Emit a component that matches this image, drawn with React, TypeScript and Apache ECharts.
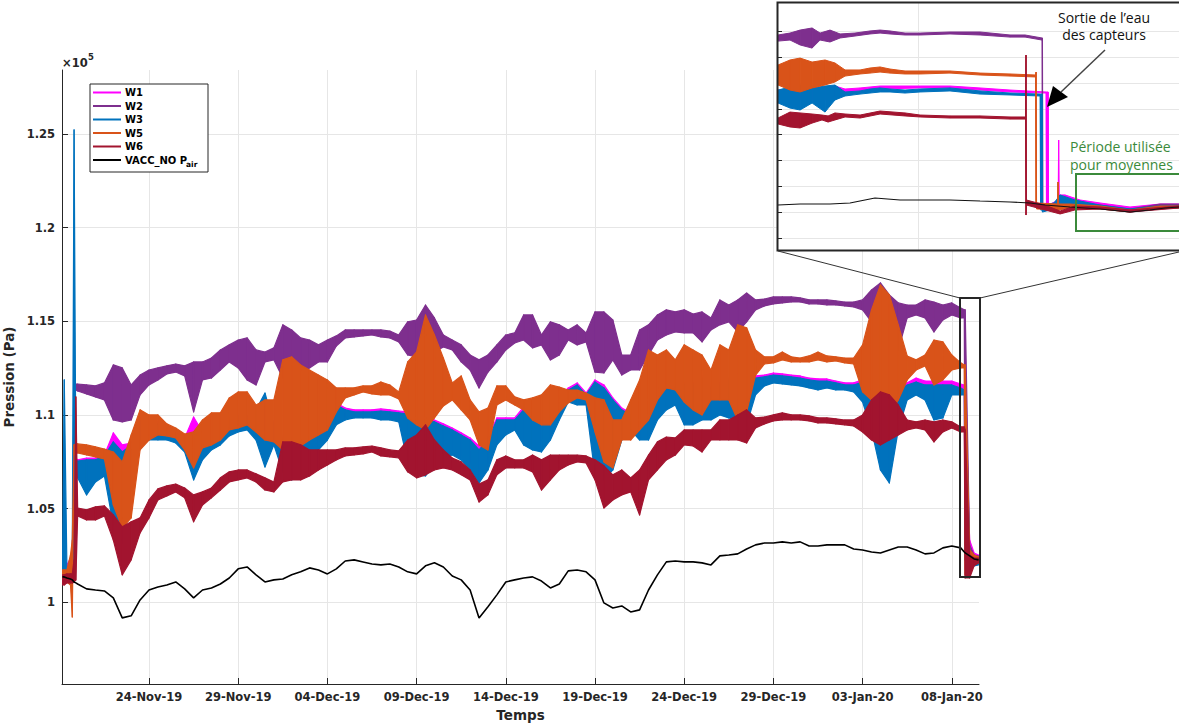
import React, { useEffect, useRef } from "react";
import * as echarts from "echarts";

// ---------- main chart data (days since 19-Nov-2019 00:00, pressure in 1e5 Pa) ----------
const days = [
  0.15, 0.25, 0.4, 0.6, 0.7, 0.8, 0.9,
  1, 1.5, 2, 2.5, 3, 3.5, 4, 4.5, 5, 5.5, 6, 6.5, 7, 7.5, 8, 8.5, 9, 9.5, 10, 10.5,
  11, 11.5, 12, 12.5, 13, 13.5, 14, 14.5, 15, 15.5, 16, 16.5, 17, 17.5, 18, 18.5, 19, 19.5, 20, 20.5,
  21, 21.5, 22, 22.5, 23, 23.5, 24, 24.5, 25, 25.5, 26, 26.5, 27, 27.5, 28, 28.5, 29, 29.5, 30, 30.5,
  31, 31.5, 32, 32.5, 33, 33.5, 34, 34.5, 35, 35.5, 36, 36.5, 37, 37.5, 38, 38.5, 39, 39.5, 40, 40.5,
  41, 41.5, 42, 42.5, 43, 43.5, 44, 44.5, 45, 45.5, 46, 46.5, 47, 47.5, 48, 48.5, 49, 49.5, 50, 50.5,
  50.7, 50.75, 51, 51.25, 51.5,
];

// [high, low] envelope of each noisy record
const w1 = [
  [1.0242, 1.0119], [1.0242, 1.0119], [1.0199, 1.0119], [1.0236, 1.0119], [1.0252, 1.0119], [1.084, 1.0706], [1.077, 1.0706],
  [1.076, 1.0706], [1.077, 1.0653], [1.077, 1.0696], [1.0786, 1.0717], [1.0904, 1.0706], [1.084, 1.0546], [1.085, 1.0653], [1.0984, 1.0866],
  [1.0984, 1.0888], [1.0963, 1.0888], [1.093, 1.0877], [1.0909, 1.0856], [1.0877, 1.0813], [1.0989, 1.0706], [1.0909, 1.0781], [1.092, 1.0824],
  [1.0952, 1.085], [1.0984, 1.0904], [1.1005, 1.092], [1.0995, 1.093],
  [1.1037, 1.0882], [1.1053, 1.0866], [1.0957, 1.085], [1.0877, 1.0733], [1.0888, 1.0706], [1.093, 1.0749], [1.0984, 1.0813], [1.1011, 1.084],
  [1.1037, 1.0888], [1.1064, 1.0963], [1.1037, 1.0989], [1.1027, 1.0995], [1.1027, 1.0995], [1.1027, 1.0995], [1.1032, 1.0984], [1.1027, 1.0984],
  [1.1021, 1.0973], [1.1016, 1.0781], [1.1011, 1.0717], [1.0984, 1.0706],
  [1.0973, 1.076], [1.0952, 1.0802], [1.093, 1.0813], [1.0904, 1.0786], [1.0877, 1.0749], [1.0834, 1.068], [1.0882, 1.0749], [1.0984, 1.0866],
  [1.0984, 1.0909], [1.0984, 1.093], [1.1043, 1.0866], [1.1043, 1.084], [1.1069, 1.0824], [1.1117, 1.0888], [1.1091, 1.0989], [1.1144, 1.108],
  [1.1171, 1.1091], [1.1117, 1.1069], [1.1187, 1.0733], [1.116, 1.0706],
  [1.1091, 1.0749], [1.1037, 1.0893], [1.1011, 1.093], [1.1037, 1.0893], [1.1091, 1.0893], [1.1171, 1.1], [1.1187, 1.1048], [1.1181, 1.108],
  [1.1171, 1.0973], [1.1171, 1.0973], [1.1208, 1.0995], [1.1144, 1.1], [1.1171, 1.1027], [1.1197, 1.1011], [1.1224, 1.1], [1.1171, 1.0973],
  [1.1208, 1.1123], [1.1213, 1.1171], [1.1224, 1.1187], [1.1219, 1.1181],
  [1.1213, 1.1176], [1.1208, 1.1171], [1.1197, 1.116], [1.1192, 1.1155], [1.1192, 1.116], [1.1181, 1.1149], [1.1171, 1.1149], [1.1171, 1.1139],
  [1.1187, 1.1091], [1.1171, 1.0947], [1.1144, 1.076], [1.1133, 1.0706], [1.1144, 1.0947], [1.1171, 1.1096], [1.1197, 1.1133], [1.1181, 1.1107],
  [1.1181, 1.1], [1.1181, 1.1016], [1.1181, 1.1133], [1.1165, 1.1133],
  [1.116, 1.1133], [1.116, 1.0252], [1.0332, 1.0226], [1.0263, 1.0215], [1.0252, 1.022],
];

const w2 = [
  [1.0162, 1.0119], [1.0162, 1.0119], [1.0162, 1.0119], [1.0172, 1.0119], [1.0172, 1.0119], [1.1165, 1.1133], [1.1165, 1.1133],
  [1.1165, 1.1128], [1.116, 1.1112], [1.1155, 1.1096], [1.1171, 1.108], [1.1267, 1.0973], [1.1251, 1.0963], [1.116, 1.0973], [1.1213, 1.1107],
  [1.124, 1.116], [1.1251, 1.1187], [1.1262, 1.1219], [1.1272, 1.1229], [1.1262, 1.1208], [1.1283, 1.1016], [1.1283, 1.1187], [1.1304, 1.1197],
  [1.1347, 1.124], [1.1374, 1.1283], [1.14, 1.1251], [1.1411, 1.1187],
  [1.1347, 1.116], [1.1336, 1.1283], [1.1358, 1.1294], [1.1481, 1.1197], [1.1454, 1.1229], [1.1411, 1.1229], [1.14, 1.1251], [1.1374, 1.1283],
  [1.14, 1.1283], [1.1422, 1.1368], [1.1454, 1.1411], [1.1454, 1.1416], [1.1454, 1.1422], [1.1454, 1.1427], [1.1454, 1.1416], [1.1448, 1.1411],
  [1.1427, 1.139], [1.1497, 1.132], [1.1507, 1.131], [1.1587, 1.132],
  [1.1518, 1.1336], [1.1427, 1.1363], [1.14, 1.1347], [1.1374, 1.1283], [1.132, 1.124], [1.1294, 1.1144], [1.132, 1.1229], [1.1374, 1.1283],
  [1.1427, 1.1347], [1.1438, 1.1384], [1.1534, 1.14], [1.1534, 1.1358], [1.1427, 1.1374], [1.1497, 1.1294], [1.1481, 1.132], [1.1454, 1.14],
  [1.1481, 1.1374], [1.1438, 1.139], [1.155, 1.1229], [1.155, 1.1224],
  [1.1507, 1.1294], [1.132, 1.1213], [1.132, 1.124], [1.1454, 1.124], [1.1481, 1.132], [1.1534, 1.14], [1.1561, 1.1427], [1.155, 1.1443],
  [1.1561, 1.1438], [1.1539, 1.1438], [1.155, 1.139], [1.1518, 1.1454], [1.1614, 1.1481], [1.1587, 1.1497], [1.1614, 1.1443], [1.1651, 1.1497],
  [1.1614, 1.1561], [1.1619, 1.1582], [1.163, 1.1593], [1.163, 1.1598],
  [1.163, 1.1603], [1.1625, 1.1603], [1.1614, 1.1593], [1.1614, 1.1593], [1.1614, 1.1587], [1.1609, 1.1587], [1.1603, 1.1582], [1.1603, 1.1577],
  [1.1614, 1.1561], [1.1667, 1.1497], [1.1705, 1.1443], [1.1641, 1.1358], [1.1598, 1.1347], [1.1587, 1.1518], [1.1587, 1.1534], [1.1614, 1.1518],
  [1.1603, 1.1443], [1.1587, 1.1507], [1.1598, 1.1534], [1.1571, 1.1518],
  [1.1561, 1.1518], [1.1561, 1.0226], [1.0306, 1.0199], [1.0252, 1.021], [1.0247, 1.0215],
];

const w3 = [
  [1.0172, 1.0108], [1.1187, 1.0119], [1.0172, 1.0119], [1.0226, 1.0119], [1.0252, 1.0108], [1.2522, 1.0226], [1.0749, 1.0664],
  [1.0754, 1.0664], [1.076, 1.0573], [1.076, 1.0642], [1.0781, 1.0674], [1.0856, 1.0413], [1.0802, 1.0316], [1.084, 1.0599], [1.0973, 1.084],
  [1.0973, 1.0866], [1.0952, 1.0866], [1.092, 1.0866], [1.0904, 1.085], [1.0866, 1.0802], [1.085, 1.0653], [1.0898, 1.076], [1.092, 1.0813],
  [1.0947, 1.084], [1.0973, 1.0888], [1.0995, 1.0909], [1.0984, 1.092],
  [1.1027, 1.0866], [1.1117, 1.0722], [1.0947, 1.084], [1.0866, 1.0696], [1.0877, 1.0653], [1.092, 1.0706], [1.0973, 1.0786], [1.1, 1.0813],
  [1.1027, 1.0866], [1.1053, 1.0947], [1.1027, 1.0973], [1.1016, 1.0984], [1.1016, 1.0984], [1.1016, 1.0984], [1.1021, 1.0973], [1.1016, 1.0973],
  [1.1011, 1.0963], [1.1005, 1.0749], [1.1, 1.068], [1.0973, 1.0674],
  [1.0963, 1.0733], [1.0941, 1.077], [1.092, 1.0786], [1.0893, 1.076], [1.0866, 1.0706], [1.0813, 1.0637], [1.0866, 1.0706], [1.0973, 1.084],
  [1.0973, 1.0893], [1.0973, 1.092], [1.1027, 1.084], [1.1027, 1.0813], [1.1053, 1.0802], [1.1107, 1.0866], [1.108, 1.0973], [1.1133, 1.1069],
  [1.116, 1.1053], [1.1107, 1.1053], [1.1176, 1.068], [1.1144, 1.0653],
  [1.108, 1.0706], [1.1027, 1.0866], [1.1, 1.092], [1.1027, 1.0866], [1.108, 1.0866], [1.116, 1.0973], [1.1176, 1.1027], [1.1171, 1.1053],
  [1.116, 1.0947], [1.116, 1.0947], [1.1197, 1.0973], [1.1133, 1.0973], [1.116, 1.1], [1.1187, 1.0984], [1.1213, 1.0973], [1.116, 1.0947],
  [1.1197, 1.1107], [1.1203, 1.1155], [1.1213, 1.1171], [1.1208, 1.1165],
  [1.1203, 1.116], [1.1197, 1.1155], [1.1187, 1.1144], [1.1181, 1.1133], [1.1181, 1.1144], [1.1171, 1.1133], [1.116, 1.1133], [1.116, 1.1123],
  [1.1176, 1.1069], [1.116, 1.092], [1.1133, 1.0706], [1.1123, 1.0637], [1.1133, 1.092], [1.116, 1.108], [1.1176, 1.1107], [1.116, 1.108],
  [1.116, 1.0973], [1.116, 1.0984], [1.116, 1.1107], [1.1144, 1.1107],
  [1.1133, 1.1107], [1.1133, 1.0226], [1.0279, 1.0199], [1.0236, 1.0194], [1.0226, 1.0199],
];

const w5 = [
  [1.0172, 1.0108], [1.0172, 1.0108], [1.0172, 1.0108], [1.0252, 1.0092], [1.0332, 0.9921], [1.084, 1.0786], [1.0845, 1.0797],
  [1.0845, 1.0797], [1.084, 1.0786], [1.0829, 1.0776], [1.0818, 1.0765], [1.0802, 1.0519], [1.0749, 1.0396], [1.0893, 1.045], [1.1027, 1.0813],
  [1.1, 1.0866], [1.1, 1.0893], [1.0952, 1.0888], [1.093, 1.0877], [1.0898, 1.0813], [1.0909, 1.0717], [1.0973, 1.0824], [1.1011, 1.084],
  [1.1011, 1.0866], [1.1091, 1.092], [1.1123, 1.093], [1.1123, 1.0947],
  [1.1053, 1.0909], [1.108, 1.0866], [1.108, 1.0856], [1.1294, 1.0813], [1.131, 1.0802], [1.1267, 1.0834], [1.124, 1.0866], [1.1213, 1.0893],
  [1.1187, 1.092], [1.1144, 1.1016], [1.1144, 1.1091], [1.1144, 1.1107], [1.1155, 1.1123], [1.1155, 1.1112], [1.1176, 1.1107], [1.116, 1.1107],
  [1.1123, 1.1085], [1.1283, 1.0984], [1.1336, 1.0947], [1.1534, 1.092],
  [1.1427, 1.0984], [1.1304, 1.1048], [1.1171, 1.108], [1.1208, 1.1027], [1.108, 1.0973], [1.1016, 1.084], [1.1037, 1.0813], [1.1155, 1.1053],
  [1.1155, 1.108], [1.1096, 1.1053], [1.108, 1.1027], [1.1091, 1.0973], [1.1107, 1.0947], [1.116, 1.0947], [1.1149, 1.1016], [1.1133, 1.1064],
  [1.1133, 1.1091], [1.1117, 1.108], [1.1091, 1.0909], [1.108, 1.0749],
  [1.0973, 1.0717], [1.0973, 1.0866], [1.108, 1.0866], [1.1187, 1.092], [1.1347, 1.0973], [1.132, 1.108], [1.1347, 1.1144], [1.1294, 1.1133],
  [1.1374, 1.1069], [1.1347, 1.1027], [1.132, 1.1], [1.124, 1.108], [1.1374, 1.108], [1.1347, 1.108], [1.1481, 1.0973], [1.1465, 1.1016],
  [1.1347, 1.1213], [1.131, 1.1272], [1.131, 1.1278], [1.1336, 1.1294],
  [1.131, 1.1283], [1.1304, 1.1283], [1.1315, 1.1283], [1.1336, 1.1294], [1.1315, 1.1283], [1.131, 1.1288], [1.1304, 1.1278], [1.1304, 1.1272],
  [1.1374, 1.1123], [1.1561, 1.108], [1.1694, 1.1027], [1.1641, 1.1], [1.1481, 1.108], [1.1315, 1.1187], [1.1294, 1.124], [1.132, 1.1262],
  [1.14, 1.116], [1.139, 1.1187], [1.132, 1.124], [1.1278, 1.1251],
  [1.1267, 1.1251], [1.1267, 1.0146], [1.0279, 1.0172], [1.0252, 1.0199], [1.0242, 1.021],
];

const w6 = [
  [1.0146, 1.0092], [1.0146, 1.0092], [1.0151, 1.0103], [1.0151, 1.0103], [1.0151, 1.0103], [1.0226, 1.0108], [1.1096, 1.0119],
  [1.0503, 1.0461], [1.0493, 1.0439], [1.0509, 1.0439], [1.0514, 1.0461], [1.0466, 1.0332], [1.0402, 1.0146], [1.0429, 1.0226], [1.045, 1.037],
  [1.0546, 1.045], [1.0605, 1.0546], [1.0621, 1.0567], [1.0631, 1.0589], [1.061, 1.0557], [1.0573, 1.0429], [1.0589, 1.0519], [1.061, 1.0557],
  [1.0664, 1.0599], [1.0696, 1.0642], [1.0706, 1.0653], [1.0706, 1.0664],
  [1.0685, 1.0642], [1.0664, 1.0599], [1.0642, 1.0589], [1.0856, 1.0642], [1.0856, 1.0653], [1.084, 1.0653], [1.0813, 1.0674], [1.0813, 1.0706],
  [1.0813, 1.0733], [1.0813, 1.076], [1.0824, 1.0781], [1.0824, 1.0786], [1.0829, 1.0792], [1.0834, 1.0802], [1.0824, 1.0781], [1.0813, 1.0776],
  [1.0808, 1.077], [1.0866, 1.0696], [1.0893, 1.0664], [1.0947, 1.068],
  [1.0866, 1.0706], [1.0813, 1.0717], [1.077, 1.0706], [1.0749, 1.068], [1.0706, 1.0653], [1.0631, 1.0535], [1.0653, 1.0573], [1.076, 1.068],
  [1.0781, 1.0717], [1.076, 1.0717], [1.076, 1.0717], [1.0786, 1.0696], [1.076, 1.0599], [1.0786, 1.0653], [1.0786, 1.0706], [1.0786, 1.0733],
  [1.0786, 1.0749], [1.0781, 1.0744], [1.076, 1.0653], [1.0728, 1.0503],
  [1.068, 1.0546], [1.0706, 1.0573], [1.0664, 1.0589], [1.0706, 1.0466], [1.0786, 1.0653], [1.0856, 1.0706], [1.0882, 1.076], [1.0877, 1.0786],
  [1.092, 1.084], [1.092, 1.0834], [1.092, 1.0802], [1.092, 1.0866], [1.0973, 1.0866], [1.0973, 1.0866], [1.1, 1.0866], [1.1027, 1.085],
  [1.0984, 1.093], [1.0989, 1.0952], [1.1, 1.0968], [1.1011, 1.0973],
  [1.1, 1.0973], [1.1, 1.0973], [1.0995, 1.0968], [1.0984, 1.0957], [1.0984, 1.0957], [1.0979, 1.0952], [1.0973, 1.0947], [1.0973, 1.0941],
  [1.1, 1.0909], [1.108, 1.0866], [1.1123, 1.084], [1.1107, 1.0866], [1.1053, 1.0893], [1.0973, 1.092], [1.0963, 1.093], [1.0973, 1.092],
  [1.0963, 1.0856], [1.0973, 1.0909], [1.0963, 1.093], [1.0936, 1.0909],
  [1.0936, 1.0909], [1.092, 1.0129], [1.0252, 1.0129], [1.0236, 1.0194], [1.0236, 1.021],
];

const vacc = [
  1.0135, 1.0135, 1.0129, 1.0124, 1.0119, 1.0108, 1.0103,
  1.0097, 1.0071, 1.0065, 1.006, 1.0023, 0.9916, 0.9927, 1.0012, 1.0065, 1.0081, 1.0092, 1.0108, 1.0071, 1.0023, 1.0065, 1.0076,
  1.0097, 1.0129, 1.0178, 1.0188,
  1.0146, 1.0108, 1.0119, 1.0124, 1.0146, 1.0162, 1.0183, 1.0172, 1.0151, 1.0178, 1.022, 1.0226, 1.0215, 1.0204, 1.0199, 1.0204,
  1.0188, 1.0162, 1.0151, 1.0194,
  1.021, 1.0188, 1.014, 1.0119, 1.0065, 0.9916, 0.9975, 1.0039, 1.0108, 1.0119, 1.0129, 1.0135, 1.0113, 1.0076, 1.0097, 1.0167,
  1.0172, 1.0162, 1.0119, 0.9996,
  0.9969, 0.998, 0.9948, 0.9959, 1.0065, 1.0146, 1.0215, 1.022, 1.0215, 1.0215, 1.021, 1.0199, 1.0247, 1.0252, 1.0258, 1.0284,
  1.0306, 1.0316, 1.0316, 1.0322,
  1.0316, 1.0322, 1.03, 1.03, 1.0306, 1.0306, 1.0306, 1.0284, 1.0279, 1.0268, 1.0263, 1.0279, 1.0295, 1.0295, 1.0279, 1.0258,
  1.0263, 1.029, 1.03, 1.029,
  1.0268, 1.0263, 1.0247, 1.0231, 1.0226,
];

// ---------- inset (zoom on the end of the record): [day, high, low] ----------
const insetW1 = [
  [49.125, 1.1145, 1.1068], [49.263, 1.1161, 1.1068], [49.419, 1.1168, 1.1068], [49.481, 1.1176, 1.1099], [49.544, 1.1153, 1.1122],
  [49.638, 1.1161, 1.1138], [49.763, 1.1176, 1.1153], [50.013, 1.1176, 1.1161], [50.2, 1.1176, 1.1161], [50.388, 1.1161, 1.1145],
  [50.575, 1.1145, 1.113], [50.8, 1.113, 1.1122], [50.803, 1.113, 1.0257], [50.813, 1.113, 1.0257], [50.816, 1.0257, 1.0219],
  [50.876, 1.0296, 1.0257], [50.879, 1.0759, 1.0296], [50.882, 1.0335, 1.0273], [50.919, 1.0335, 1.0273], [51.013, 1.0296, 1.0265],
  [51.138, 1.0273, 1.025], [51.325, 1.0242, 1.0219], [51.513, 1.0265, 1.0242], [51.631, 1.0265, 1.025],
];
const insetW2 = [
  [49.125, 1.157, 1.1523], [49.2, 1.1585, 1.1531], [49.263, 1.1608, 1.1493], [49.338, 1.1624, 1.1469], [49.388, 1.1585, 1.1531],
  [49.45, 1.1608, 1.1516], [49.513, 1.1578, 1.1547], [49.606, 1.1585, 1.1562], [49.7, 1.1601, 1.1578], [49.763, 1.1608, 1.1585],
  [49.825, 1.1601, 1.1578], [49.919, 1.1585, 1.157], [50.013, 1.1585, 1.157], [50.2, 1.1593, 1.1578], [50.388, 1.1593, 1.157],
  [50.575, 1.157, 1.1554], [50.669, 1.157, 1.1554], [50.775, 1.1547, 1.1531], [50.778, 1.1547, 1.0242], [50.781, 1.0257, 1.0219],
  [50.888, 1.0257, 1.0227], [51.013, 1.0273, 1.025], [51.138, 1.0257, 1.0234], [51.325, 1.0227, 1.0203], [51.513, 1.0265, 1.0242],
  [51.631, 1.0265, 1.0242],
];
const insetW3 = [
  [49.125, 1.1145, 1.1045], [49.2, 1.1168, 1.1006], [49.263, 1.1184, 1.0991], [49.338, 1.1161, 1.1045], [49.419, 1.1176, 1.0975],
  [49.481, 1.1184, 1.1068], [49.544, 1.113, 1.1099], [49.638, 1.1138, 1.1114], [49.7, 1.1153, 1.1122], [49.763, 1.1161, 1.113],
  [49.825, 1.1153, 1.113], [49.919, 1.1145, 1.1122], [50.013, 1.1153, 1.113], [50.2, 1.1161, 1.1138], [50.388, 1.1138, 1.1114],
  [50.575, 1.1122, 1.1107], [50.763, 1.1114, 1.1099], [50.766, 1.1114, 1.0219], [50.775, 1.1114, 1.0219], [50.778, 1.0257, 1.0203],
  [50.85, 1.0273, 1.0227], [50.888, 1.0335, 1.0257], [50.981, 1.0296, 1.0257], [51.138, 1.0257, 1.0234], [51.325, 1.0227, 1.0203],
  [51.513, 1.025, 1.0227], [51.631, 1.025, 1.0234],
];
const insetW5 = [
  [49.125, 1.1338, 1.1184], [49.2, 1.1377, 1.1145], [49.263, 1.1392, 1.113], [49.338, 1.1361, 1.1161], [49.419, 1.1377, 1.1184],
  [49.481, 1.1354, 1.1207], [49.544, 1.13, 1.1253], [49.638, 1.13, 1.1269], [49.7, 1.1315, 1.1276], [49.763, 1.1323, 1.1284],
  [49.825, 1.1307, 1.1276], [49.919, 1.1292, 1.1269], [50.013, 1.1292, 1.1269], [50.2, 1.1292, 1.1276], [50.388, 1.1276, 1.1261],
  [50.575, 1.1269, 1.1253], [50.735, 1.1261, 1.1246], [50.738, 1.1284, 1.0257], [50.741, 1.0273, 1.0227], [50.872, 1.0265, 1.0219],
  [50.875, 1.0435, 1.0196], [50.878, 1.0265, 1.0219], [50.95, 1.0265, 1.0234], [51.138, 1.025, 1.0227], [51.325, 1.0219, 1.0203],
  [51.513, 1.025, 1.0234], [51.631, 1.025, 1.0234],
];
const insetW6 = [
  [49.125, 1.0929, 1.0883], [49.2, 1.0975, 1.086], [49.263, 1.0968, 1.0852], [49.338, 1.096, 1.089], [49.4, 1.0952, 1.0914],
  [49.438, 1.0945, 1.0898], [49.481, 1.0968, 1.0914], [49.544, 1.096, 1.0937], [49.638, 1.0952, 1.0929], [49.763, 1.0983, 1.096],
  [49.919, 1.0968, 1.0945], [50.013, 1.0952, 1.0937], [50.2, 1.0945, 1.0929], [50.388, 1.0945, 1.0929], [50.575, 1.0937, 1.0921],
  [50.672, 1.0937, 1.0921], [50.675, 1.1415, 1.018], [50.678, 1.0296, 1.0257], [50.794, 1.0257, 1.0219], [50.888, 1.0211, 1.0188],
  [50.981, 1.025, 1.0219], [51.138, 1.0242, 1.0227], [51.325, 1.0219, 1.0203], [51.631, 1.025, 1.0234],
];
const insetVacc = [
  [49.125, 1.0257], [49.263, 1.0265], [49.45, 1.0265], [49.575, 1.0273], [49.731, 1.0311], [49.888, 1.0296], [50.013, 1.0296],
  [50.2, 1.0296], [50.388, 1.0288], [50.575, 1.0281], [50.7, 1.0273], [50.794, 1.0257], [50.95, 1.0242], [51.138, 1.0227],
  [51.325, 1.0203], [51.45, 1.0219], [51.544, 1.0234], [51.631, 1.0242],
];

// ---------- ticks ----------
const xTickDays = [5, 10, 15, 20, 25, 30, 35, 40, 45, 50];
const xTickLabels = ["24-Nov-19", "29-Nov-19", "04-Dec-19", "09-Dec-19", "14-Dec-19", "19-Dec-19", "24-Dec-19", "29-Dec-19", "03-Jan-20", "08-Jan-20"];
const yTicks = [1, 1.05, 1.1, 1.15, 1.2, 1.25];
const insetYTicks = [1.0, 1.02, 1.04, 1.06, 1.08, 1.1, 1.12, 1.14, 1.16];
const insetXTicks = [50];

const seriesNames = ["W1", "W2", "W3", "W5", "W6", "VACC_NO P"];
const COLORS = { w1: "#FF00FF", w2: "#7E2F8E", w3: "#0072BD", w5: "#D95319", w6: "#A2142F", vacc: "#000000" };

function bandSeries(name: string, color: string, data: number[][], gi: number, z: number, lw: number) {
  return {
    type: "custom",
    name,
    xAxisIndex: gi,
    yAxisIndex: gi,
    z,
    silent: true,
    clip: true,
    data,
    encode: { x: 0, y: [1, 2] },
    renderItem: (params: any, api: any) => {
      const i = params.dataIndex;
      if (i >= data.length - 1) return { type: "group", children: [] };
      const a = data[i];
      const b = data[i + 1];
      const pts = [api.coord([a[0], a[1]]), api.coord([b[0], b[1]]), api.coord([b[0], b[2]]), api.coord([a[0], a[2]])];
      return {
        type: "polygon",
        shape: { points: pts },
        style: { fill: color, stroke: color, lineWidth: lw, lineJoin: "round" },
      };
    },
  };
}

const zip = (xs: number[], pairs: number[][]) => xs.map((x, i) => [x, pairs[i][0], pairs[i][1]]);

const FONT = "DejaVu Sans";
const TXT = "#262626";

export default function App() {
  const ref = useRef<HTMLDivElement>(null);
  useEffect(() => {
    if (!ref.current) return;
    const chart = echarts.init(ref.current, null, { renderer: "svg" });

    const legendRows = [
      { c: COLORS.w1, y: 92.5 },
      { c: COLORS.w2, y: 106 },
      { c: COLORS.w3, y: 119.5 },
      { c: COLORS.w5, y: 133 },
      { c: COLORS.w6, y: 146.5 },
      { c: COLORS.vacc, y: 160 },
    ];
    const legendEls: any[] = [
      { type: "rect", shape: { x: 90, y: 84, width: 118, height: 88 }, style: { fill: "#fff", stroke: TXT, lineWidth: 1 }, z: 8 },
    ];
    legendRows.forEach((r, i) => {
      legendEls.push({ type: "line", shape: { x1: 93, y1: r.y, x2: 121, y2: r.y }, style: { stroke: r.c, lineWidth: 2 }, z: 9 });
      legendEls.push({
        type: "text", x: 125, y: r.y, z: 9,
        style: { text: seriesNames[i], fill: "#000", font: `bold 10px '${FONT}'`, verticalAlign: "middle" },
      });
    });
    legendEls.push({
      type: "text", x: 186, y: 164, z: 9,
      style: { text: "air", fill: "#000", font: `bold 7.5px '${FONT}'`, verticalAlign: "middle" },
    });

    const option: any = {
      animation: false,
      backgroundColor: "#ffffff",
      grid: [
        { left: 62, top: 70, width: 917, height: 614, containLabel: false, outerBoundsMode: "none" },
        { left: 778, top: 3, width: 420, height: 247, containLabel: false, outerBoundsMode: "none" },
      ],
      xAxis: [
        {
          type: "value", gridIndex: 0, min: 0.1233, max: 51.525,
          name: "Temps", nameLocation: "middle", nameGap: 21,
          nameTextStyle: { color: TXT, fontFamily: FONT, fontWeight: "bold", fontSize: 13.5 },
          axisLine: { show: true, onZero: false, lineStyle: { color: TXT, width: 1 } },
          axisTick: { show: true, inside: true, length: 6, customValues: xTickDays, lineStyle: { color: TXT } },
          axisLabel: {
            customValues: xTickDays, margin: 7, color: TXT, fontFamily: FONT, fontWeight: "bold", fontSize: 11.5,
            formatter: (v: number) => { const k = xTickDays.indexOf(Math.round(v)); return k >= 0 ? xTickLabels[k] : ""; },
          },
          splitLine: { show: true, lineStyle: { color: "#e6e6e6", width: 1 } },
        },
        {
          type: "value", gridIndex: 1, min: 49.125, max: 51.75, z: 4,
          axisLine: { show: false },
          axisTick: { show: false, customValues: insetXTicks },
          axisLabel: { show: false, customValues: insetXTicks },
          splitLine: { show: true, lineStyle: { color: "#e6e6e6", width: 1 } },
        },
      ],
      yAxis: [
        {
          type: "value", gridIndex: 0, min: 0.9563, max: 1.2842,
          name: "Pression (Pa)", nameLocation: "middle", nameGap: 38,
          nameTextStyle: { color: TXT, fontFamily: FONT, fontWeight: "bold", fontSize: 13.5 },
          axisLine: { show: true, onZero: false, lineStyle: { color: TXT, width: 1 } },
          axisTick: { show: true, inside: true, length: 6, customValues: yTicks, lineStyle: { color: TXT } },
          axisLabel: {
            customValues: yTicks, margin: 7, color: TXT, fontFamily: FONT, fontWeight: "bold", fontSize: 11.5,
            formatter: (v: number) => String(Number(v.toFixed(2))),
          },
          splitLine: { show: true, lineStyle: { color: "#e6e6e6", width: 1 } },
        },
        {
          type: "value", gridIndex: 1, min: 0.991, max: 1.1817, z: 4,
          axisLine: { show: false },
          axisTick: { show: true, inside: true, length: 4, customValues: insetYTicks, lineStyle: { color: TXT } },
          axisLabel: { show: false, customValues: insetYTicks },
          splitLine: { show: true, lineStyle: { color: "#e6e6e6", width: 1 } },
        },
      ],
      series: [
        bandSeries("W1", COLORS.w1, zip(days, w1), 0, 2, 1.2),
        bandSeries("W2", COLORS.w2, zip(days, w2), 0, 2, 1.2),
        bandSeries("W3", COLORS.w3, zip(days, w3), 0, 2, 1.2),
        bandSeries("W5", COLORS.w5, zip(days, w5), 0, 2, 1.2),
        bandSeries("W6", COLORS.w6, zip(days, w6), 0, 2, 1.2),
        {
          type: "line", name: "VACC_NO Pair", xAxisIndex: 0, yAxisIndex: 0, z: 2,
          data: days.map((d, i) => [d, vacc[i]]), showSymbol: false, symbol: "none",
          lineStyle: { color: COLORS.vacc, width: 1.6 }, silent: true,
        },
        bandSeries("W1 zoom", COLORS.w1, insetW1, 1, 5, 1),
        bandSeries("W2 zoom", COLORS.w2, insetW2, 1, 5, 1),
        bandSeries("W3 zoom", COLORS.w3, insetW3, 1, 5, 1),
        bandSeries("W5 zoom", COLORS.w5, insetW5, 1, 5, 1),
        bandSeries("W6 zoom", COLORS.w6, insetW6, 1, 5, 1),
        {
          type: "line", name: "VACC zoom", xAxisIndex: 1, yAxisIndex: 1, z: 5,
          data: insetVacc, showSymbol: false, symbol: "none",
          lineStyle: { color: "#111", width: 1.1 }, silent: true,
        },
      ],
      graphic: [
        { type: "text", x: 62, y: 63, z: 9, style: { text: "×10", fill: TXT, font: `bold 11.5px '${FONT}'`, verticalAlign: "middle" } },
        { type: "text", x: 88, y: 57, z: 9, style: { text: "5", fill: TXT, font: `bold 8.5px '${FONT}'`, verticalAlign: "middle" } },
        ...legendEls,
        { type: "rect", shape: { x: 777, y: 3, width: 430, height: 247 }, style: { fill: "#fff" }, z: 3 },
        { type: "rect", shape: { x: 777.5, y: 2.5, width: 430, height: 248 }, style: { fill: "none", stroke: TXT, lineWidth: 2 }, z: 7 },
        { type: "rect", shape: { x: 960, y: 298, width: 20, height: 279 }, style: { fill: "none", stroke: TXT, lineWidth: 2 }, z: 7 },
        { type: "line", shape: { x1: 778, y1: 251, x2: 960, y2: 298 }, style: { stroke: "#333", lineWidth: 1 }, z: 7 },
        { type: "line", shape: { x1: 980, y1: 298, x2: 1179, y2: 252 }, style: { stroke: "#333", lineWidth: 1 }, z: 7 },
        { type: "text", x: 1104, y: 17, z: 9, style: { text: "Sortie de l’eau", fill: "#111", font: "14px 'Open Sans'", align: "center", verticalAlign: "middle" } },
        { type: "text", x: 1104, y: 34, z: 9, style: { text: "des capteurs", fill: "#111", font: "14px 'Open Sans'", align: "center", verticalAlign: "middle" } },
        { type: "line", shape: { x1: 1105, y1: 50, x2: 1061, y2: 92 }, style: { stroke: "#444", lineWidth: 1.5 }, z: 9 },
        { type: "polygon", shape: { points: [[1047, 107], [1053, 86], [1068, 97]] }, style: { fill: "#000" }, z: 9 },
        { type: "text", x: 1070, y: 146, z: 9, style: { text: "Période utilisée", fill: "#3b8a3b", font: "14px 'Open Sans'", verticalAlign: "middle" } },
        { type: "text", x: 1070, y: 164, z: 9, style: { text: "pour moyennes", fill: "#3b8a3b", font: "14px 'Open Sans'", verticalAlign: "middle" } },
        { type: "rect", shape: { x: 1076, y: 174, width: 140, height: 57 }, style: { fill: "none", stroke: "#3b8a3b", lineWidth: 2 }, z: 9 },
      ],
    };
    chart.setOption(option);
    return () => chart.dispose();
  }, []);
  return <div ref={ref} style={{ position: "fixed", left: 0, top: 0, width: 1179, height: 726, background: "#fff" }} />;
}
